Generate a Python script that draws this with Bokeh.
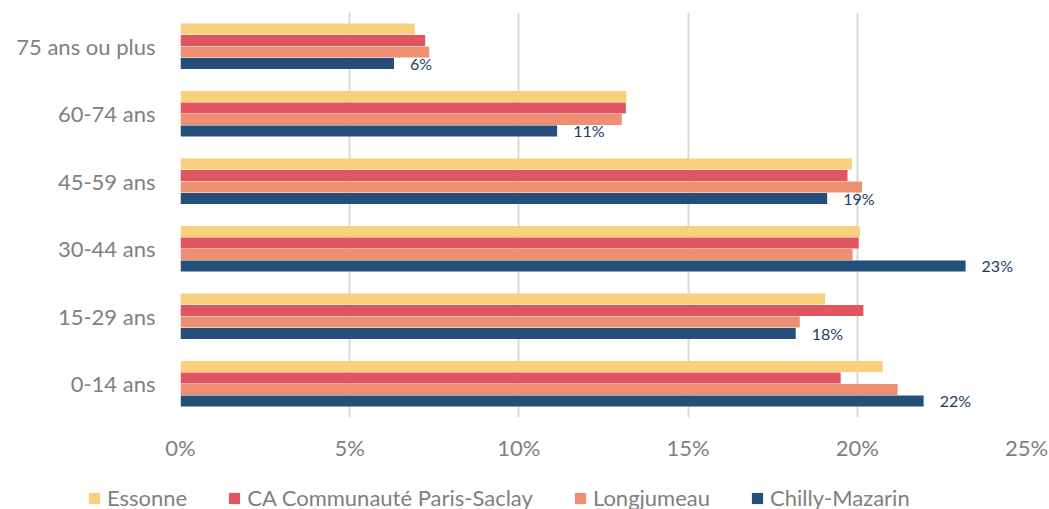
from bokeh.plotting import figure
from bokeh.layouts import column
from bokeh.models import (ColumnDataSource, FactorRange, Range1d, PrintfTickFormatter,
                          FixedTicker, Legend, LegendItem)
from bokeh.transform import dodge
from bokeh.core.properties import value
from bokeh.embed import file_html
from bokeh.resources import INLINE

# categories, listed bottom to top
categories = ["0-14 ans", "15-29 ans", "30-44 ans", "45-59 ans", "60-74 ans", "75 ans ou plus"]
essonne = [20.75, 19.05, 20.08, 19.84, 13.18, 6.92]
ca_paris_saclay = [19.51, 20.18, 20.04, 19.71, 13.16, 7.23]
longjumeau = [21.19, 18.30, 19.86, 20.14, 13.04, 7.35]
chilly_mazarin = [21.96, 18.18, 23.20, 19.11, 11.13, 6.31]
series_names = ["Essonne", "CA Communauté Paris-Saclay", "Longjumeau", "Chilly-Mazarin"]
x_ticks = [0, 5, 10, 15, 20, 25]

colors = ["#F8D07E", "#E05560", "#EC8F73", "#234F79"]
FONT = "Lato"
GREY = "#808080"

source = ColumnDataSource(dict(
    cat=categories,
    essonne=essonne,
    ca=ca_paris_saclay,
    longjumeau=longjumeau,
    chilly=chilly_mazarin,
    chilly_label=[f"{round(v)}%" for v in chilly_mazarin],
))

p = figure(width=1049, height=470, y_range=FactorRange(*categories),
           x_range=Range1d(0, 25), output_backend="svg", toolbar_location=None,
           min_border_left=180, min_border_right=23, min_border_top=12, min_border_bottom=53)
p.outline_line_color = None

bh = 0.165
offsets = [0.255, 0.085, -0.085, -0.255]
fields = ["essonne", "ca", "longjumeau", "chilly"]
for f, off, col in zip(fields, offsets, colors):
    p.hbar(y=dodge("cat", off, range=p.y_range), right=f, left=0, height=bh,
           source=source, fill_color=col, line_color=None)

p.text(x="chilly", y=dodge("cat", -0.255, range=p.y_range), text="chilly_label", source=source,
       x_offset=16, text_baseline="middle", text_align="left",
       text_font=value(FONT), text_font_size="16px", text_color="#1F3B5F")

# axes
p.xaxis.ticker = FixedTicker(ticks=x_ticks)
p.xaxis.formatter = PrintfTickFormatter(format="%d%%")
p.xaxis.axis_line_color = None
p.xaxis.major_tick_line_color = None
p.xaxis.minor_tick_line_color = None
p.xaxis.major_label_standoff = 10
p.xaxis.major_label_text_font = FONT
p.xaxis.major_label_text_font_size = "22px"
p.xaxis.major_label_text_color = GREY

p.yaxis.axis_line_color = None
p.yaxis.major_tick_line_color = None
p.yaxis.minor_tick_line_color = None
p.yaxis.major_label_standoff = 19
p.yaxis.major_label_text_font = FONT
p.yaxis.major_label_text_font_size = "22px"
p.yaxis.major_label_text_color = GREY

p.xgrid.grid_line_color = "#D9D9D9"
p.xgrid.grid_line_width = 2
p.ygrid.grid_line_color = None

# legend strip below the chart (its bars have zero height; only the legend shows)
leg = figure(width=1049, height=39, x_range=Range1d(100, 101), y_range=FactorRange(*categories),
             output_backend="svg", toolbar_location=None,
             x_axis_location=None, y_axis_location=None,
             min_border_left=0, min_border_right=0, min_border_top=0, min_border_bottom=0)
leg.grid.grid_line_color = None
leg.outline_line_color = None

unaligned = True
try:
    p.frame_align = False
    leg.frame_align = False
except AttributeError:
    unaligned = False

items = []
for f, col, name in zip(fields, colors, series_names):
    r = leg.hbar(y="cat", right=f, left=0, height=0, source=source,
                 fill_color=col, line_color=None)
    items.append(LegendItem(label=name, renderers=[r]))
lg = Legend(items=items, orientation="horizontal", location=(87 if unaligned else 0, -2),
            padding=0, margin=0, spacing=40, glyph_width=14, glyph_height=14,
            label_standoff=6, border_line_color=None, background_fill_alpha=0,
            label_text_font=FONT, label_text_font_size="22px", label_text_color=GREY)
leg.add_layout(lg)

layout = column(p, leg, spacing=0)
open("out.html", "w").write(file_html(layout, INLINE))
